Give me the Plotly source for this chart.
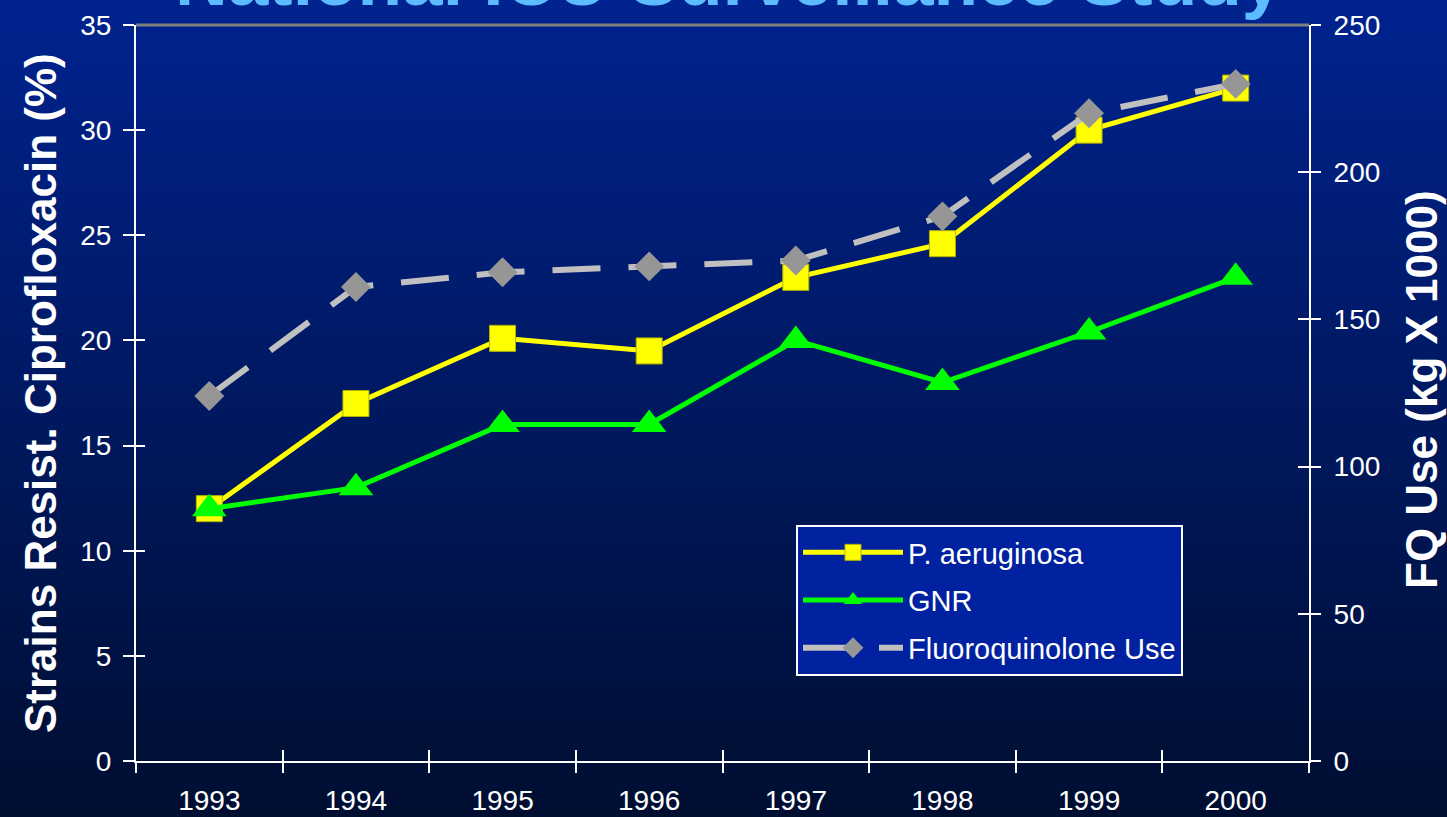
import plotly.graph_objects as go

# ---- data -------------------------------------------------------------
years = [1993, 1994, 1995, 1996, 1997, 1998, 1999, 2000]
p_aeruginosa = [12, 17, 20.1, 19.5, 23, 24.6, 30, 32]          # % resistant
gnr = [12, 13, 16, 16, 20, 18, 20.4, 23]                       # % resistant
fq_use = [124, 161, 166, 168, 170, 185, 220, 230]              # kg x 1000
left_ticks = [0, 5, 10, 15, 20, 25, 30, 35]
right_ticks = [0, 50, 100, 150, 200, 250]

# ---- page geometry ----------------------------------------------------
W, H = 1447, 817
L, R, T, B = 136, 138, 25, 56
PW, PH = W - L - R, H - T - B
FONT = "Liberation Sans, Arial, sans-serif"


def px_x(px):
    return (px - L) / PW


def px_y(py):
    return (H - B - py) / PH


boundaries = [y - 0.5 for y in years] + [years[-1] + 0.5]
xrange_ = [boundaries[0], boundaries[-1]]

fig = go.Figure()

fig.add_trace(go.Scatter(
    x=years, y=fq_use, name="Fluoroquinolone Use", yaxis="y2",
    mode="lines+markers", legendrank=3, legendgroup="c",
    line=dict(color="#C0C0C0", width=6, dash="48px,28px"),
    marker=dict(symbol="diamond", size=23, color="#969696",
                line=dict(width=0)),
))
fig.add_trace(go.Scatter(
    x=years, y=p_aeruginosa, name="P. aeruginosa",
    mode="lines+markers", legendrank=1, legendgroup="a",
    line=dict(color="#FFFF00", width=5),
    marker=dict(symbol="square", size=26, color="#FFFF00",
                line=dict(color="#B3B300", width=1)),
))
fig.add_trace(go.Scatter(
    x=years, y=gnr, name="GNR",
    mode="lines+markers", legendrank=2, legendgroup="b",
    line=dict(color="#00FF00", width=5),
    marker=dict(symbol="triangle-up", size=30, color="#00FF00",
                line=dict(width=0)),
))

# empty traces that bring the overlaid "inside tick" axes to life,
# giving the axes their crossing tick marks
for xa, ya in (("x2", "y3"), ("x", "y4")):
    fig.add_trace(go.Scatter(x=[], y=[], xaxis=xa, yaxis=ya,
                             showlegend=False, hoverinfo="skip"))

# ---- gradient backdrop (top blue fading to navy) ----------------------
top_rgb = (0, 35, 143)
bot_rgb = (0, 14, 49)
n_bands = 140
band_h = H / n_bands
shapes = []
for i in range(n_bands):
    t = (i + 0.5) / n_bands
    c = tuple(round(a + (b - a) * t) for a, b in zip(top_rgb, bot_rgb))
    y0 = i * band_h
    y1 = (i + 1) * band_h + 0.8
    shapes.append(dict(
        type="rect", xref="paper", yref="paper", layer="below",
        x0=px_x(0), x1=px_x(W), y0=px_y(y1), y1=px_y(y0),
        fillcolor=f"rgb{c}", line=dict(width=0),
    ))
# grey frame edge along the top of the plot area
shapes.append(dict(type="line", xref="paper", yref="paper", layer="above",
                   x0=0, x1=1, y0=1, y1=1,
                   line=dict(color="#808080", width=3)))

tickfont = dict(family=FONT, size=28, color="white")
common = dict(showgrid=False, zeroline=False, fixedrange=True)

fig.update_layout(
    width=W, height=H,
    margin=dict(l=L, r=R, t=T, b=B, autoexpand=False),
    paper_bgcolor="rgb(0,14,49)",
    plot_bgcolor="rgba(0,0,0,0)",
    shapes=shapes,
    showlegend=True,
    legend=dict(
        x=px_x(796), y=px_y(525), xanchor="left", yanchor="top",
        bgcolor="#0022A0", bordercolor="white", borderwidth=2,
        font=dict(family=FONT, size=29, color="white"),
        itemwidth=100, tracegroupgap=7,
    ),
    xaxis=dict(
        **common, range=xrange_, tickvals=years,
        ticktext=[str(y) for y in years], ticks="",
        tickfont=tickfont, ticklabelstandoff=13,
        showline=True, linecolor="white", linewidth=2,
        minor=dict(tickmode="array", tickvals=boundaries, ticks="outside",
                   ticklen=10, tickwidth=2, tickcolor="white"),
    ),
    xaxis2=dict(
        **common, overlaying="x", anchor="y", range=xrange_,
        tickvals=boundaries, ticks="inside", ticklen=11, tickwidth=2,
        tickcolor="white", showticklabels=False, showline=False,
    ),
    yaxis=dict(
        **common, range=[0, 35], tickvals=left_ticks,
        ticks="outside", ticklen=11, tickwidth=2, tickcolor="white",
        tickfont=tickfont, ticklabelstandoff=6,
        showline=True, linecolor="white", linewidth=2,
    ),
    yaxis2=dict(
        **common, overlaying="y", side="right", anchor="x", range=[0, 250],
        tickvals=right_ticks, ticks="outside", ticklen=10, tickwidth=2,
        tickcolor="white", tickfont=tickfont, ticklabelstandoff=7,
        showline=True, linecolor="white", linewidth=2,
    ),
    yaxis3=dict(
        **common, overlaying="y", side="left", anchor="x2", range=[0, 35],
        tickvals=left_ticks, ticks="inside", ticklen=9, tickwidth=2,
        tickcolor="white", showticklabels=False, showline=False,
    ),
    yaxis4=dict(
        **common, overlaying="y", side="right", anchor="x", range=[0, 250],
        tickvals=right_ticks, ticks="inside", ticklen=11, tickwidth=2,
        tickcolor="white", showticklabels=False, showline=False,
    ),
    annotations=[
        dict(text="<b>National ICU Surveillance Study</b>",
             xref="paper", yref="paper", x=px_x(729), y=px_y(22),
             xanchor="center", yanchor="bottom", showarrow=False,
             font=dict(family=FONT, size=73, color="#5DBBFF")),
        dict(text="<b>Strains Resist. Ciprofloxacin (%)</b>",
             xref="paper", yref="paper", x=px_x(40), y=px_y(393),
             xanchor="center", yanchor="middle", textangle=-90,
             showarrow=False,
             font=dict(family=FONT, size=44, color="white")),
        dict(text="<b>FQ Use (kg X 1000)</b>",
             xref="paper", yref="paper", x=px_x(1421), y=px_y(390),
             xanchor="center", yanchor="middle", textangle=-90,
             showarrow=False,
             font=dict(family=FONT, size=44, color="white")),
    ],
)

fig.write_html("out.html")
